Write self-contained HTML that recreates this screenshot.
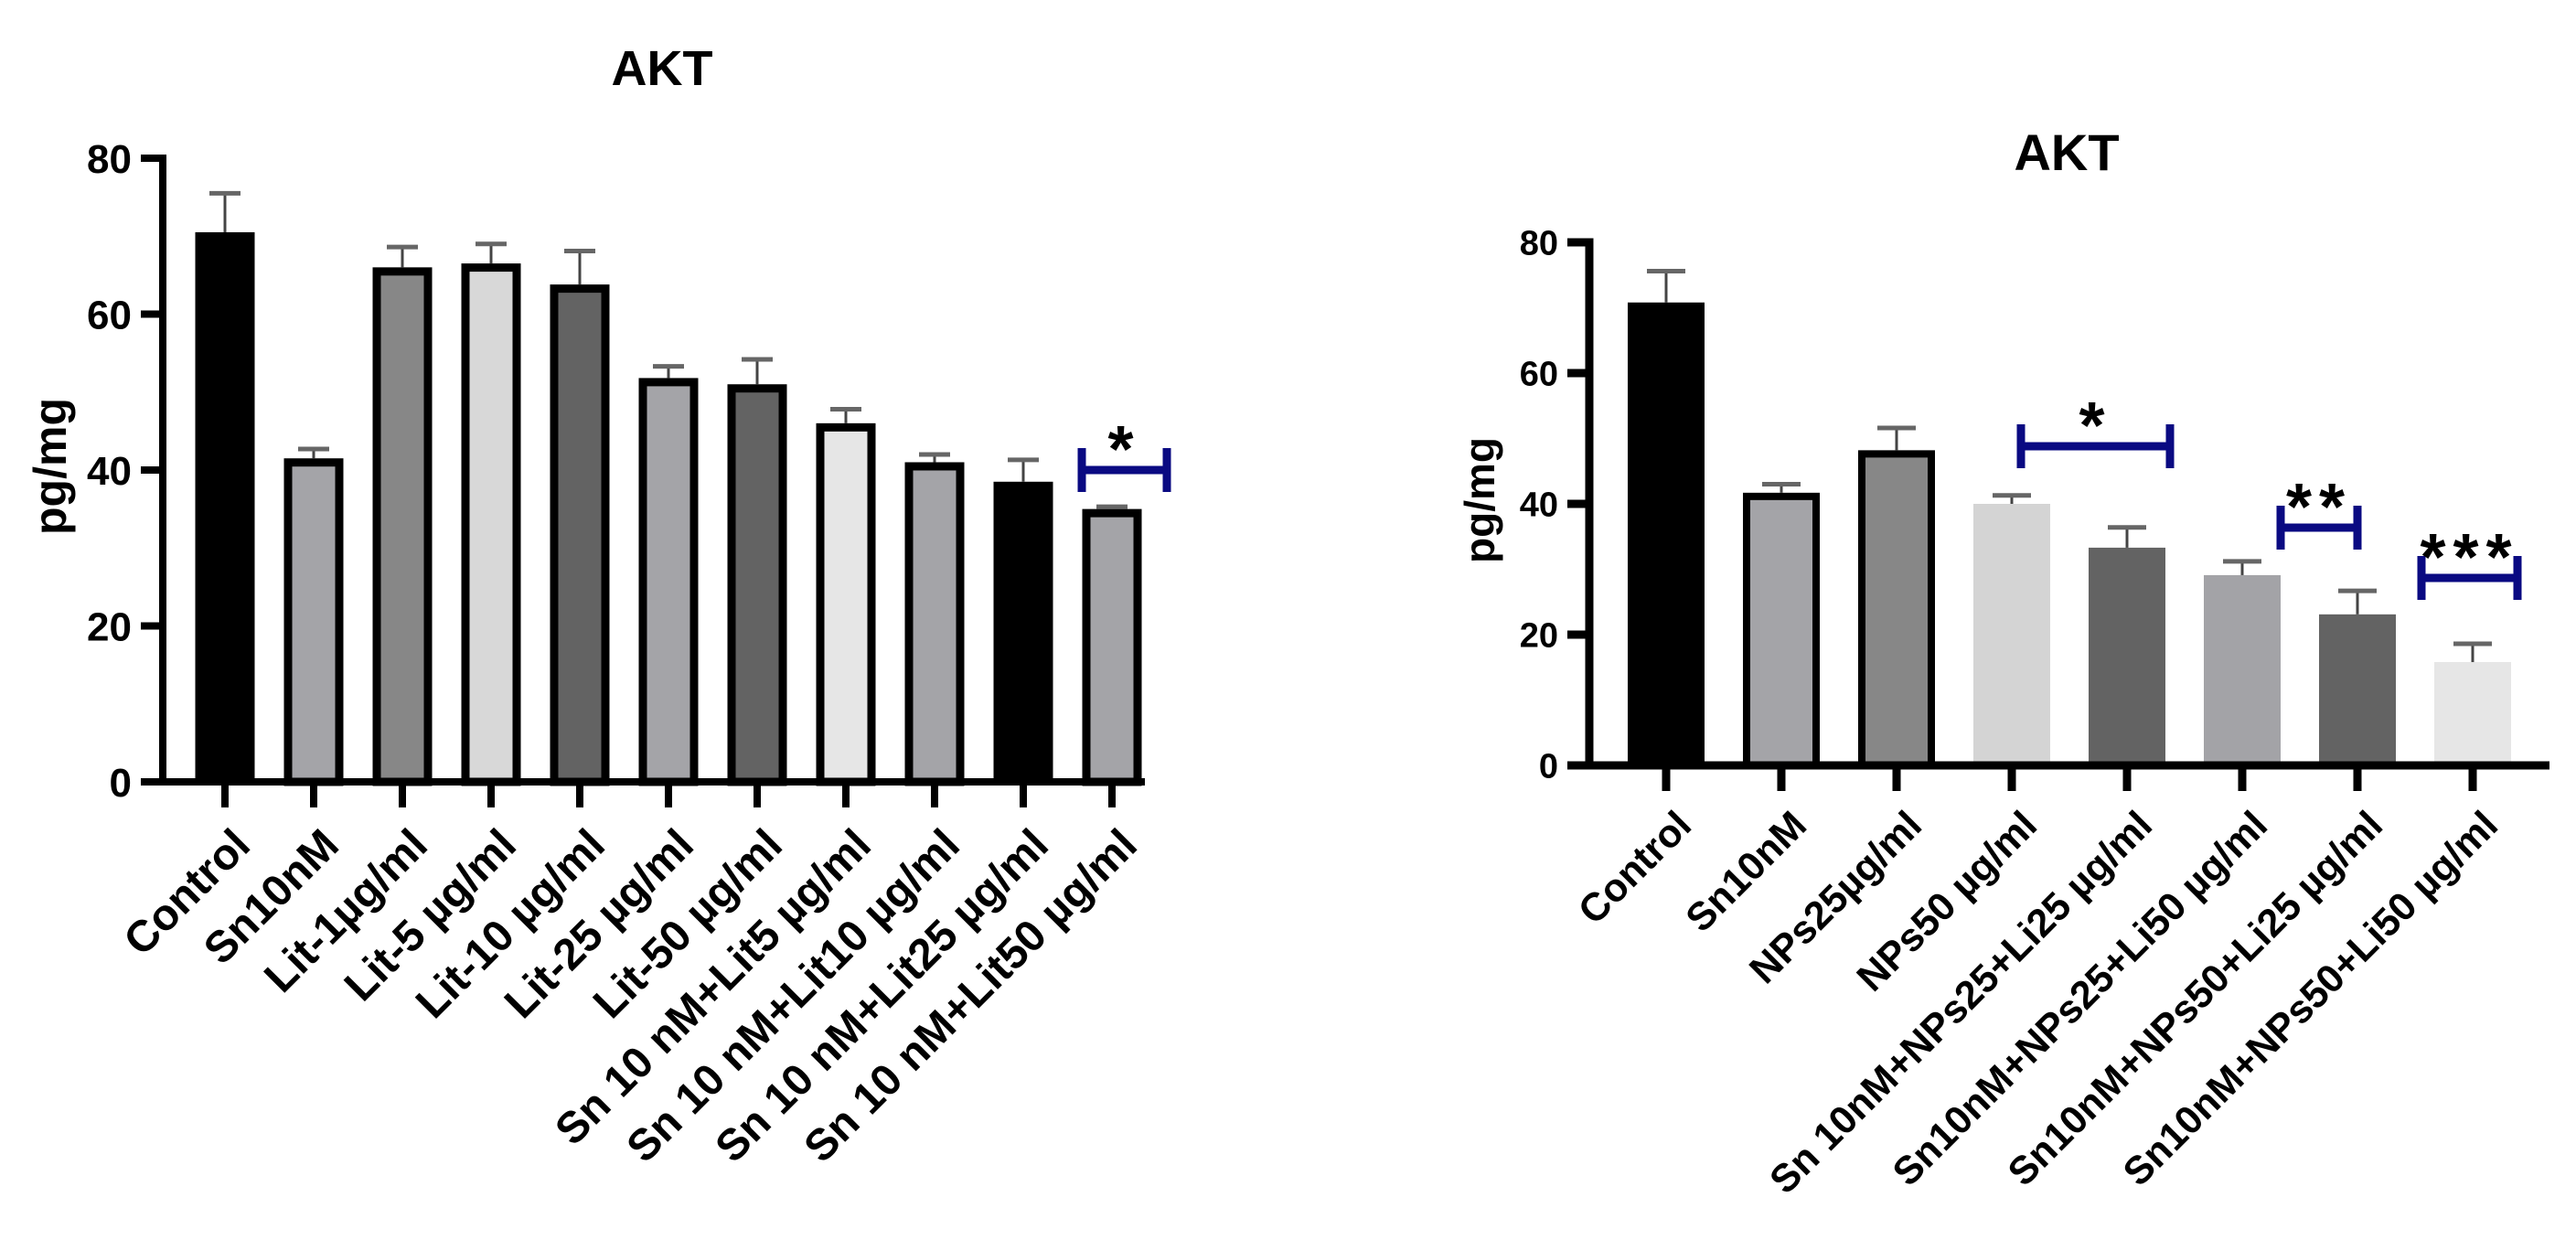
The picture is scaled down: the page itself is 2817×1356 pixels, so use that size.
<!DOCTYPE html>
<html><head><meta charset="utf-8"><style>
html,body{margin:0;padding:0;background:#fff;}
svg{display:block;font-family:"Liberation Sans",Arial,sans-serif;font-weight:bold;}
</style></head><body>
<svg id="chart" width="2817" height="1356" viewBox="0 0 2817 1356" xmlns="http://www.w3.org/2000/svg"></svg>
<script>
const leftCategories = ["Control","Sn10nM","Lit-1\u00b5g/ml","Lit-5 \u00b5g/ml","Lit-10 \u00b5g/ml","Lit-25 \u00b5g/ml","Lit-50 \u00b5g/ml","Sn 10 nM+Lit5 \u00b5g/ml","Sn 10 nM+Lit10 \u00b5g/ml","Sn 10 nM+Lit25 \u00b5g/ml","Sn 10 nM+Lit50 \u00b5g/ml"];
const leftValues = [70.5,41.5,66,66.5,63.8,51.8,51,46,41,38.5,35];
const leftErrors = [5,1.2,2.6,2.5,4.3,1.5,3.2,1.8,1,2.8,0.3];
const leftFills = ["#000","#a4a4a8","#878787","#d8d8d8","#636363","#a4a4a8","#636363","#e6e6e6","#a4a4a8","#000","#a4a4a8"];
const leftTicks = [0,20,40,60,80];

const rightCategories = ["Control","Sn10nM","NPs25\u00b5g/ml","NPs50 \u00b5g/ml","Sn 10nM+NPs25+Li25 \u00b5g/ml","Sn10nM+NPs25+Li50 \u00b5g/ml","Sn10nM+NPs50+Li25 \u00b5g/ml","Sn10nM+NPs50+Li50 \u00b5g/ml"];
const rightValues = [70.8,41.7,48.2,40,33.3,29.1,23.1,15.8];
const rightErrors = [4.8,1.3,3.4,1.3,3.1,2.1,3.6,2.8];
const rightFills = ["#000","#a4a4a8","#878787","#d4d4d4","#636363","#a3a3a7","#636363","#e6e6e6"];
const rightTicks = [0,20,40,60,80];

const svg = document.getElementById('chart');
const NS = "http://www.w3.org/2000/svg";
function mk(tag, attrs, parent){
  const e = document.createElementNS(NS, tag);
  for (const k in attrs) e.setAttribute(k, attrs[k]);
  (parent||svg).appendChild(e);
  return e;
}

function drawChart(cfg){
  const g = mk('g', {});
  
  
  const y = v => cfg.y0 - (v/80)*(cfg.y0 - cfg.y80);
  const x = i => cfg.x0 + i*cfg.step;
  const t = mk('text', {x: cfg.titleX, y: cfg.titleY, 'text-anchor':'middle', 'font-size': cfg.titleSize, fill:'#000'}, g);
  t.textContent = 'AKT';
  
  
  const yt = mk('text', {x: cfg.yTitleX, y: cfg.yTitleY, 'text-anchor':'middle', 'font-size': cfg.yTitleSize, fill:'#000', transform:`rotate(-90 ${cfg.yTitleX} ${cfg.yTitleY})`}, g);
  yt.textContent = 'pg/mg';
  
  
  cfg.values.forEach((v,i)=>{
    const cx = x(i), w = cfg.barW, top = y(v), bw = cfg.border[i];
    const r = mk('rect', {x: cx - w/2 + bw/2, y: top + bw/2, width: w - bw, height: cfg.y0 - top - bw/2, fill: cfg.fills[i], stroke: bw ? '#000' : 'none', 'stroke-width': bw}, g);
    
    
    const et = y(v + cfg.errors[i]);
    const stem = mk('line', {x1: cx, x2: cx, y1: top, y2: et, stroke:'#444', 'stroke-width': 3}, g);
    
    
    const cap = mk('line', {x1: cx - cfg.capW/2, x2: cx + cfg.capW/2, y1: et, y2: et, stroke:'#666', 'stroke-width': 5}, g);
    
    
    const tk = mk('line', {x1: cx, x2: cx, y1: cfg.y0, y2: cfg.y0 + cfg.tickLen + 4, stroke:'#000', 'stroke-width': cfg.axisW}, g);
    
    
    const lx = cx + cfg.labDX, ly = cfg.y0 + cfg.labDY;
    const lb = mk('text', {x: lx, y: ly, 'text-anchor':'end', 'font-size': cfg.labSize, fill:'#000', transform:`rotate(-45 ${lx} ${ly})`}, g);
    lb.textContent = cfg.categories[i];
    
    
  });
  const ya = mk('line', {x1: cfg.axisX, x2: cfg.axisX, y1: cfg.y80 - cfg.axisW/2, y2: cfg.y0 + cfg.axisW/2, stroke:'#000', 'stroke-width': cfg.axisW}, g);
  
  
  const xa = mk('line', {x1: cfg.axisX - cfg.tickLen, x2: cfg.xEnd, y1: cfg.y0, y2: cfg.y0, stroke:'#000', 'stroke-width': cfg.axisW}, g);
  
  
  cfg.ticks.forEach(tv=>{
    const yy = y(tv);
    const l = mk('line', {x1: cfg.axisX - cfg.tickLen, x2: cfg.axisX, y1: yy, y2: yy, stroke:'#000', 'stroke-width': cfg.axisW}, g);
    
    
    const tl = mk('text', {x: cfg.axisX - cfg.tickLen - 10, y: yy + cfg.tickSize*0.36, 'text-anchor':'end', 'font-size': cfg.tickSize, fill:'#000'}, g);
    tl.textContent = tv;
    
    
  });
  cfg.sig.forEach(s=>{
    const b = mk('path', {d:`M${s.x1} ${s.y-24}V${s.y+24}M${s.x1} ${s.y}H${s.x2}M${s.x2} ${s.y-24}V${s.y+24}`, stroke:'#0a0a82', 'stroke-width': 9, fill:'none'}, g);
    
    
    const st = mk('text', {x:(s.x1+s.x2)/2, y: s.y + 2, 'text-anchor':'middle', 'font-size': 72, fill:'#000', 'letter-spacing': 8}, g);
    st.textContent = s.label;
    
    
  });
}

drawChart({name:'left-chart', categories:leftCategories, values:leftValues, errors:leftErrors, fills:leftFills, ticks:leftTicks,
  y0:855, y80:173, x0:246, step:97, barW:65, border:[0,9,9,9,9,9,9,9,9,0,9], capW:34,
  axisX:178, xEnd:1252, axisW:8, tickLen:24, tickSize:44,
  titleX:724, titleY:93, titleSize:54, yTitleX:72, yTitleY:510, yTitleSize:50,
  labDX:30, labDY:72, labSize:48,
  sig:[{x1:1183, x2:1276, y:514, label:'*'}]});

drawChart({name:'right-chart', categories:rightCategories, values:rightValues, errors:rightErrors, fills:rightFills, ticks:rightTicks,
  y0:837, y80:265, x0:1822, step:126, barW:84, border:[0,8,8,0,0,0,0,0], capW:42,
  axisX:1738, xEnd:2788, axisW:9, tickLen:24, tickSize:38,
  titleX:2260, titleY:186, titleSize:56, yTitleX:1634, yTitleY:547, yTitleSize:46,
  labDX:30, labDY:68, labSize:43,
  sig:[{x1:2210, x2:2373, y:488, label:'*'},{x1:2494, x2:2578, y:577, label:'**'},{x1:2648, x2:2753, y:632, label:'***'}]});
</script>
</body></html>
